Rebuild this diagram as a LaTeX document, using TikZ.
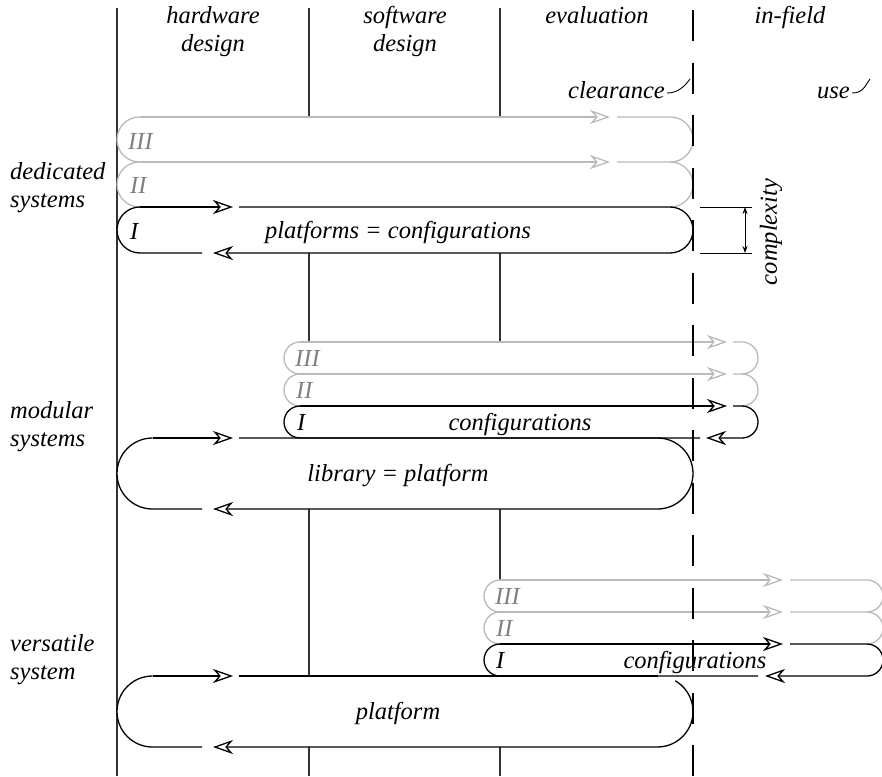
\documentclass[tikz,border=0pt]{standalone}
\usepackage{fontspec}
\setmainfont{Liberation Serif}
\usetikzlibrary{arrows.meta,calc}
\begin{document}
\begin{tikzpicture}[x=1pt,y=-1pt,
  txt/.style={font=\fontsize{24.5}{28}\selectfont\itshape, inner sep=0pt},
  gtxt/.style={txt, text=black!50},
  vline/.style={line width=1.1pt, black!80},
  bbox/.style={line width=1.3pt, black},
  gbox/.style={line width=1.3pt, black!27},
  wfill/.style={fill=white},
  otip/.tip={Stealth[open,length=20pt,width=14pt,inset=6pt]},
  dtip/.tip={Stealth[length=7pt,width=5pt]},
  clearline/.style={line width=2.4pt, dash pattern=on 31pt off 21.5pt},
  curl/.style={line width=0.9pt}
]
\fill[white] (0,0) rectangle (882,776);
\useasboundingbox (0,0) rectangle (882,776);

% phase separators
\draw[vline] (117,8) -- (117,776);
\draw[vline] (309,8) -- (309,776);
\draw[vline] (500,8) -- (500,776);

% white fills of all loops
\fill[wfill,rounded corners=22.5pt] (117,117) rectangle (693,162);
\fill[wfill,rounded corners=22.5pt] (117,162) rectangle (693,207);
\fill[wfill,rounded corners=23pt] (117,207) rectangle (693,253);
\fill[wfill,rounded corners=16pt] (284,342) rectangle (758,374);
\fill[wfill,rounded corners=16pt] (284,374) rectangle (758,406);
\fill[wfill,rounded corners=16pt] (284,406) rectangle (758,438);
\fill[wfill,rounded corners=35.5pt] (117,438) rectangle (693,509);
\fill[wfill,rounded corners=16pt] (484,580) rectangle (884,612);
\fill[wfill,rounded corners=16pt] (484,612) rectangle (884,644);
\fill[wfill,rounded corners=16pt] (484,644) rectangle (884,676);
\fill[wfill,rounded corners=35.5pt] (117,676) rectangle (693,747);

% ---------- dedicated systems ----------
\draw[gbox,-otip] (139.5,117) -- (610,117);
\draw[gbox] (617,117) -- (670.5,117) arc(-90:90:22.5);
\draw[gbox] (139.5,162) arc(90:270:22.5);
\draw[gbox,-otip] (139.5,162) -- (610,162);
\draw[gbox] (617,162) -- (670.5,162) arc(-90:90:22.5);
\draw[gbox] (139.5,207) arc(90:270:22.5);
\draw[bbox,-otip] (140,207) -- (233,207);
\draw[bbox,-otip] (239,207) -- (670,207) arc(-90:90:23) -- (213,253);
\draw[bbox] (202,253) -- (140,253) arc(90:270:23);

% complexity dimension
\coordinate (c1a) at (700,207); \coordinate (c1b) at (752,207);
\coordinate (c2a) at (700,253); \coordinate (c2b) at (752,253);
\draw[line width=1pt] (c1a) -- (c1b);
\draw[line width=1pt] (c2a) -- (c2b);
\coordinate (ct) at (745,207); \coordinate (cb) at (745,253);
\draw[line width=1pt,dtip-dtip] (ct) -- (cb);
\node[txt,rotate=90] (cx) at (771,232) {complexity};

% ---------- modular systems ----------
\draw[gbox,-otip] (300,342) -- (727,342);
\draw[gbox] (733,342) -- (742,342) arc(-90:90:16);
\draw[gbox] (300,374) arc(90:270:16);
\draw[gbox,-otip] (300,374) -- (727,374);
\draw[gbox] (733,374) -- (742,374) arc(-90:90:16);
\draw[gbox] (300,406) arc(90:270:16);
\draw[bbox,-otip] (300,406) -- (727,406);
\draw[bbox,-otip] (733,406) -- (742,406) arc(-90:90:16) -- (706,438);
\draw[bbox] (700,438) -- (300,438) arc(90:270:16);

\draw[bbox,-otip] (152.5,438) -- (233,438);
\draw[bbox,-otip] (239,438) -- (657.5,438) arc(-90:90:35.5) -- (213,509);
\draw[bbox] (202,509) -- (152.5,509) arc(90:270:35.5);

% ---------- versatile system ----------
\draw[gbox,-otip] (500,580) -- (783,580);
\draw[gbox] (790,580) -- (867,580) arc(-90:90:16);
\draw[gbox] (500,612) arc(90:270:16);
\draw[gbox,-otip] (500,612) -- (783,612);
\draw[gbox] (790,612) -- (867,612) arc(-90:90:16);
\draw[gbox] (500,644) arc(90:270:16);
\draw[bbox,-otip] (500,644) -- (783,644);
\draw[bbox,-otip] (790,644) -- (867,644) arc(-90:90:16) -- (765,676);
\draw[bbox] (758,676) -- (500,676) arc(90:270:16);

\draw[bbox,-otip] (152.5,676) -- (233,676);
\draw[bbox] (239,676) -- (657.5,676);
\draw[bbox,-otip] (675.25,680.76) arc(-60:90:35.5) -- (213,747);
\draw[bbox] (202,747) -- (152.5,747) arc(90:270:35.5);

% ---------- texts ----------
\node[txt,anchor=base] (hw1) at (213,24) {hardware};
\node[txt,anchor=base] (hw2) at (213,52) {design};
\node[txt,anchor=base] (sw1) at (405,24) {software};
\node[txt,anchor=base] (sw2) at (405,52) {design};
\node[txt,anchor=base] (ev) at (597,24) {evaluation};
\node[txt,anchor=base] (inf) at (790,24) {in-field};
\node[txt,anchor=base east] (clr) at (665,98) {clearance};
\node[txt,anchor=base east] (use) at (850,98) {use};

\node[txt,anchor=base west] (d1) at (10,179) {dedicated};
\node[txt,anchor=base west] (d2) at (10,207) {systems};
\node[txt,anchor=base west] (m1) at (10,418) {modular};
\node[txt,anchor=base west] (m2) at (10,446) {systems};
\node[txt,anchor=base west] (v1) at (10,651) {versatile};
\node[txt,anchor=base west] (v2) at (10,679) {system};

\node[gtxt,anchor=base west] (dIII) at (128,149) {III};
\node[gtxt,anchor=base west] (dII) at (130,193) {II};
\node[txt,anchor=base west] (dI) at (130,239) {I};
\node[txt,anchor=base] (dtext) at (398,238) {platforms = configurations};

\node[gtxt,anchor=base west] (mIII) at (295,366) {III};
\node[gtxt,anchor=base west] (mII) at (296,398) {II};
\node[txt,anchor=base west] (mI) at (297,430) {I};
\node[txt,anchor=base] (mtext) at (520,430) {configurations};
\node[txt,anchor=base] (ltext) at (398,481) {library = platform};

\node[gtxt,anchor=base west] (vIII) at (495,604) {III};
\node[gtxt,anchor=base west] (vII) at (496,636) {II};
\node[txt,anchor=base west] (vI) at (496,668) {I};
\node[txt,anchor=base] (vtext) at (695,668) {configurations};
\node[txt,anchor=base] (ptext) at (398,719) {platform};

% clearance line
\draw[clearline] (693,10) -- (693,776);

% curls
\coordinate (clrend) at (690,79);
\coordinate (useend) at (870,79);
\draw[curl] ([xshift=2pt,yshift=5pt]clr.base east) .. controls +(11,0) and +(-5,7) .. (clrend);
\draw[curl] ([xshift=2pt,yshift=5pt]use.base east) .. controls +(11,0) and +(-5,7) .. (useend);
\end{tikzpicture}
\end{document}
